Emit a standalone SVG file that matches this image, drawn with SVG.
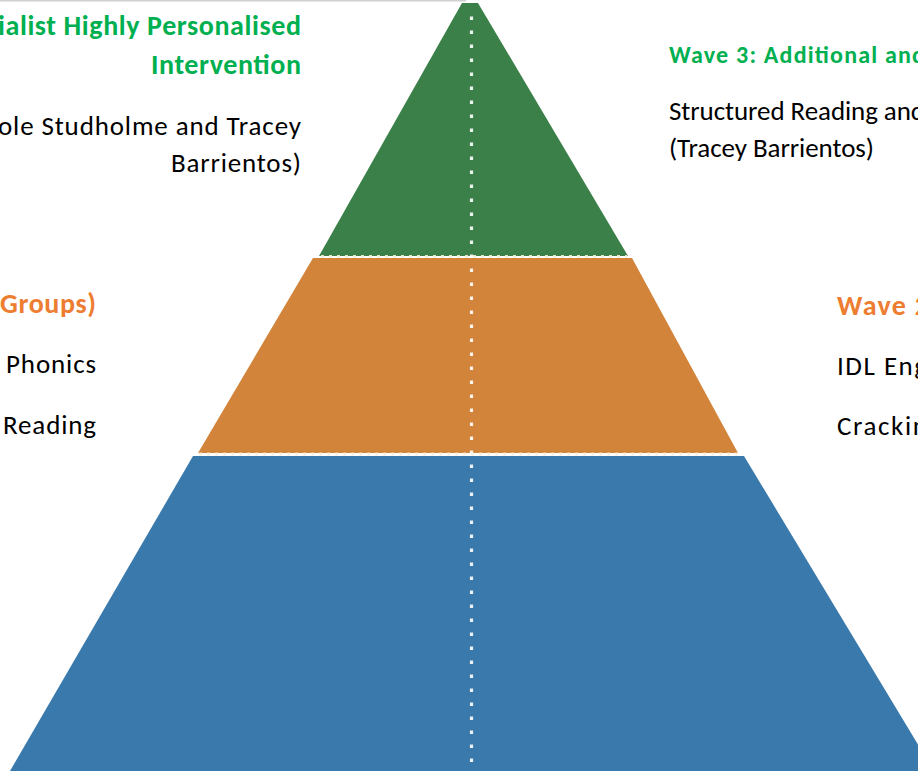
<svg xmlns="http://www.w3.org/2000/svg" width="918" height="773" viewBox="0 0 918 773">
  <style>
    .t { font-family: Carlito, Lato, "Open Sans", sans-serif; font-size: 27px; fill: #000; }
    .b { font-family: Carlito, Lato, "Open Sans", sans-serif; font-weight: bold; }
    .g { fill: #00B050; }
    .o { fill: #ED7D31; }
    .vdots { stroke: #ffffff; stroke-width: 3.2; stroke-dasharray: 3.5 10.5; opacity: 0.9; fill: none; }
    .hdots { stroke: #f6efd9; stroke-width: 3; stroke-dasharray: 3 5; opacity: 0.9; fill: none; }
  </style>
  <rect x="0" y="0" width="918" height="773" fill="#ffffff"/>
  <line x1="0" y1="0.75" x2="466" y2="0.75" stroke="#d0d0d0" stroke-width="1.5"/>

  <g id="wave3-layer">
    <polygon points="462,3 478,3 628,256 319,256" fill="#3B8049"/>
  </g>
  <g id="wave2-layer">
    <polygon points="313,258 632,258 738,453 198,453" fill="#D1843A"/>
  </g>
  <g id="wave1-layer">
    <polygon points="193,456 744,456 934,771 10,771" fill="#3A79AB"/>
  </g>

  <g id="connectors">
    <line class="vdots" x1="471.5" y1="16.5" x2="471.5" y2="771"/>
    <line class="hdots" x1="321" y1="256.5" x2="627" y2="256.5"/>
    <line class="hdots" x1="199" y1="454" x2="738" y2="454"/>
  </g>

  <g id="label-wave4">
    <text class="b g" x="301" y="35" font-size="28" text-anchor="end" textLength="303">ialist Highly Personalised</text>
    <text class="b g" x="301" y="74" font-size="28" text-anchor="end" textLength="150">Intervention</text>
    <text class="t" x="301" y="135" text-anchor="end" textLength="303">ole Studholme and Tracey</text>
    <text class="t" x="301" y="172" text-anchor="end" textLength="130">Barrientos)</text>
  </g>

  <g id="label-wave2-left">
    <text class="b o" x="96" y="313" font-size="28" text-anchor="end" textLength="96">Groups)</text>
    <text class="t" x="96" y="373" text-anchor="end" textLength="90">Phonics</text>
    <text class="t" x="96" y="434" text-anchor="end" textLength="93">Reading</text>
  </g>

  <g id="label-wave3">
    <text class="b g" x="669" y="63" font-size="24" textLength="256">Wave 3: Additional and</text>
    <text class="t" x="669" y="120" textLength="256">Structured Reading and</text>
    <text class="t" x="669" y="157" textLength="205">(Tracey Barrientos)</text>
  </g>

  <g id="label-wave2">
    <text class="b o" x="837" y="315" font-size="28" textLength="92">Wave 2</text>
    <text class="t" x="837" y="375" textLength="90">IDL Eng</text>
    <text class="t" x="837" y="435" textLength="90">Crackin</text>
  </g>
</svg>
